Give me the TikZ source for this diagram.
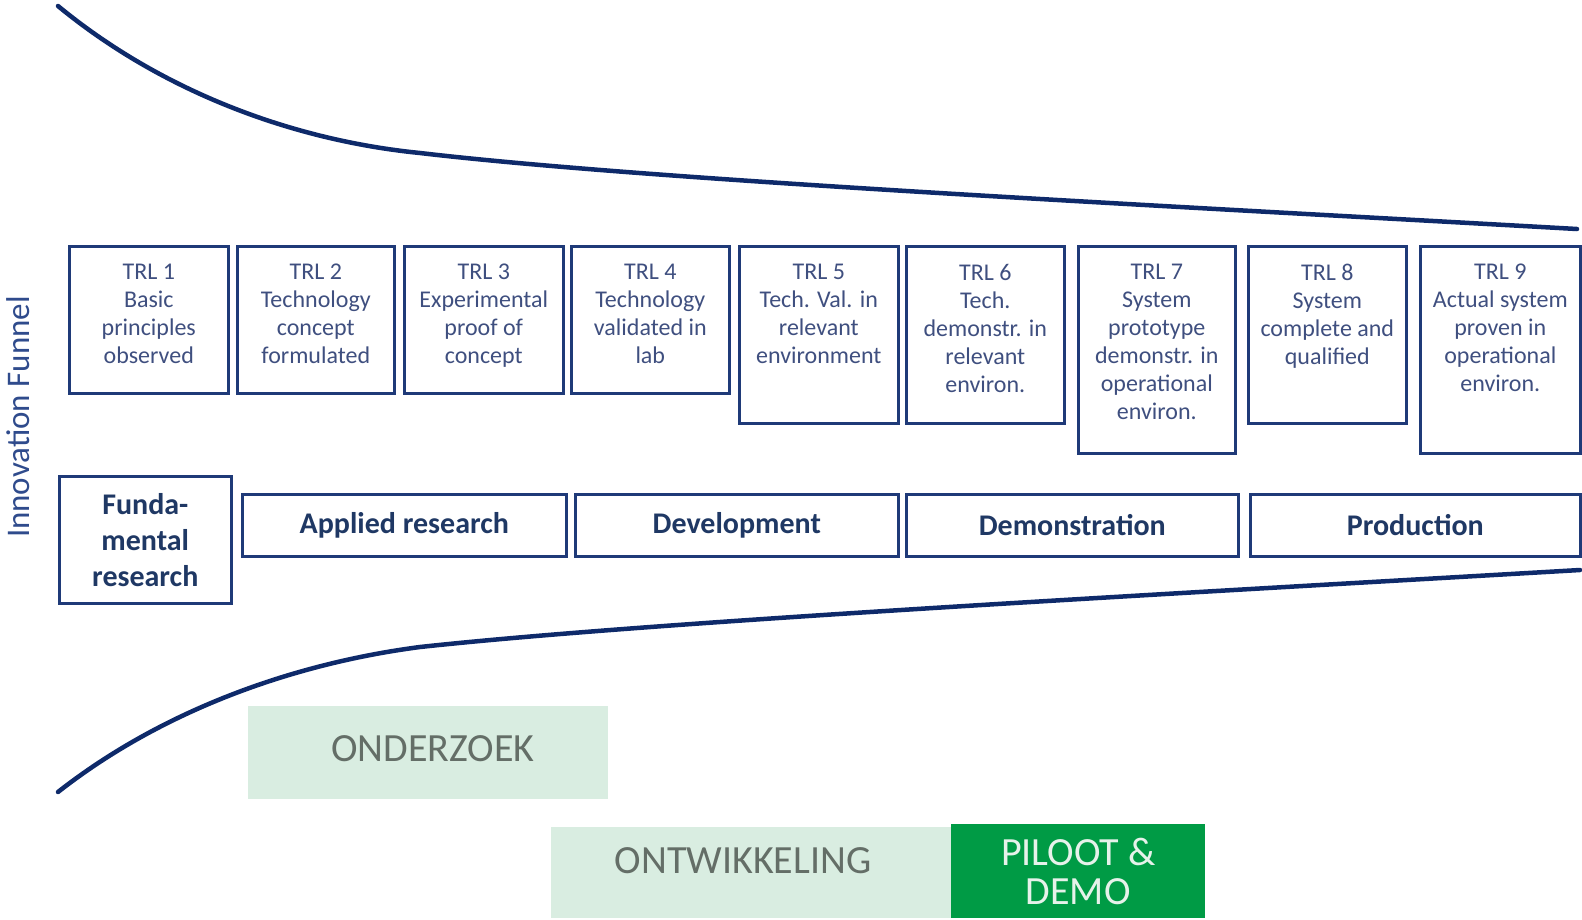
\documentclass[tikz,border=0pt]{standalone}
\usepackage{fontspec}
\setmainfont{Carlito}
\usetikzlibrary{positioning}
\usepackage{xcolor}
\definecolor{funnelblue}{HTML}{0E2A6A}
\definecolor{boxblue}{HTML}{1F3A78}
\definecolor{trlgray}{HTML}{3F4F7F}
\definecolor{phaseblue}{HTML}{1F3864}
\definecolor{labelblue}{HTML}{2F4B8C}
\definecolor{palegreen}{HTML}{D9EDE1}
\definecolor{palegreentext}{HTML}{646E67}
\definecolor{darkgreen}{HTML}{009B45}
\definecolor{darkgreentext}{HTML}{E6F2EA}

\begin{document}
\begin{tikzpicture}[x=1pt,y=-1pt,
	funnel/.style={draw=funnelblue,line width=4.5pt,line cap=round},
	trlbox/.style={draw=boxblue,line width=2.6pt,anchor=north west,inner sep=0pt},
	trltext/.style={align=center,inner sep=0pt,text=trlgray,font=\fontsize{24}{28}\selectfont},
	phasebox/.style={draw=boxblue,line width=2.6pt,anchor=north west,inner sep=0pt,align=center,
		text=phaseblue,font=\fontsize{30}{36}\selectfont\bfseries},
	lightbar/.style={fill=palegreen,anchor=north west,inner sep=0pt},
	lighttext/.style={inner sep=0pt,text=palegreentext,font=\fontsize{40}{40}\selectfont},
	darkbar/.style={fill=darkgreen,anchor=north west,inner sep=0pt,align=center,text=darkgreentext,
		font=\fontsize{40}{39}\selectfont}]
	\useasboundingbox (0,0) rectangle (1582,919);

	% funnel outline
	\draw[funnel] (58,6) .. controls (160,90) and (290,140) .. (420,153) .. controls (650,180) and (1150,205) .. (1577,229);
	\draw[funnel] (58,792) .. controls (160,712) and (290,664) .. (420,647) .. controls (650,622) and (1150,595) .. (1580,570);

	\node[rotate=90,text=labelblue,font=\fontsize{33}{36}\selectfont] (funnellabel) at (18,417) {Innovation Funnel};

	% TRL levels
	\node[trlbox,minimum width=159pt,minimum height=147pt] (trl1) at (68,245) {};
	\node[trlbox,minimum width=157pt,minimum height=147pt] (trl2) at (236,245) {};
	\node[trlbox,minimum width=159pt,minimum height=147pt] (trl3) at (403,245) {};
	\node[trlbox,minimum width=158pt,minimum height=147pt] (trl4) at (570,245) {};
	\node[trlbox,minimum width=159pt,minimum height=177pt] (trl5) at (738,245) {};
	\node[trlbox,minimum width=158pt,minimum height=177pt] (trl6) at (905,245) {};
	\node[trlbox,minimum width=157pt,minimum height=207pt] (trl7) at (1077,245) {};
	\node[trlbox,minimum width=158pt,minimum height=177pt] (trl8) at (1247,245) {};
	\node[trlbox,minimum width=160pt,minimum height=207pt] (trl9) at (1419,245) {};

	\node[trltext,below=19pt of trl1.north] (trl1txt) {TRL 1\\Basic\\principles\\observed};
	\node[trltext,below=19pt of trl2.north] (trl2txt) {TRL 2\\Technology\\concept\\formulated};
	\node[trltext,below=19pt of trl3.north] (trl3txt) {TRL 3\\Experimental\\proof of\\concept};
	\node[trltext,below=19pt of trl4.north] (trl4txt) {TRL 4\\Technology\\validated in\\lab};
	\node[trltext,below=19pt of trl5.north] (trl5txt) {TRL 5\\Tech. Val. in\\relevant\\environment};
	\node[trltext,below=19pt of trl6.north] (trl6txt) {TRL 6\\Tech.\\demonstr. in\\relevant\\environ.};
	\node[trltext,below=19pt of trl7.north] (trl7txt) {TRL 7\\System\\prototype\\demonstr. in\\operational\\environ.};
	\node[trltext,below=19pt of trl8.north] (trl8txt) {TRL 8\\System\\complete and\\qualified};
	\node[trltext,below=19pt of trl9.north] (trl9txt) {TRL 9\\Actual system\\proven in\\operational\\environ.};

	% phases
	\node[phasebox,minimum width=172pt,minimum height=127pt] (fundamental) at (58,475) {Funda-\\mental\\research};
	\node[phasebox,minimum width=324pt,minimum height=62pt] (applied) at (241,493) {Applied research};
	\node[phasebox,minimum width=323pt,minimum height=62pt] (development) at (574,493) {Development};
	\node[phasebox,minimum width=332pt,minimum height=62pt] (demonstration) at (905,493) {Demonstration};
	\node[phasebox,minimum width=330pt,minimum height=62pt] (production) at (1249,493) {Production};

	% bars
	\node[lightbar,minimum width=360pt,minimum height=93pt] (onderzoek) at (248,706) {};
	\node[lighttext] (onderzoektxt) at (433,749) {ONDERZOEK};
	\node[lightbar,minimum width=400pt,minimum height=91pt] (ontwikkeling) at (551,827) {};
	\node[lighttext] (ontwikkelingtxt) at (743,861) {ONTWIKKELING};
	\node[darkbar,minimum width=254pt,minimum height=94pt] (piloot) at (951,824) {PILOOT \&\\DEMO};

\end{tikzpicture}
\end{document}
